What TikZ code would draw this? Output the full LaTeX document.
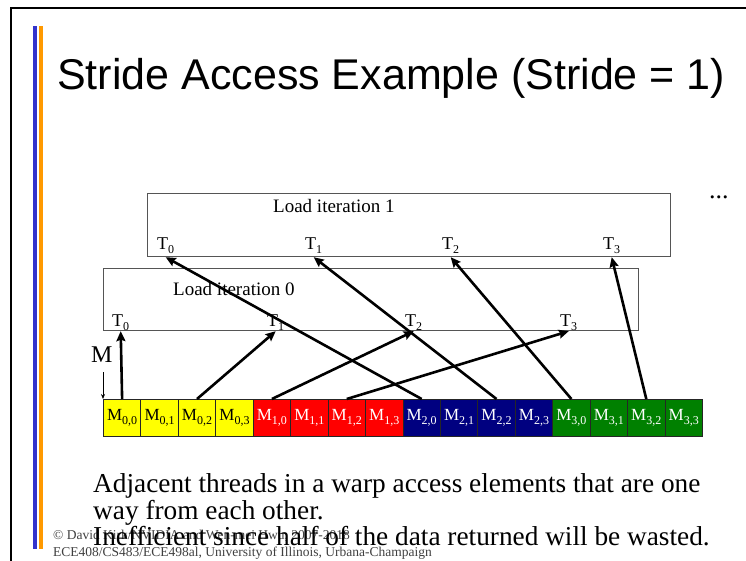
\documentclass[tikz,border=0pt]{standalone}
\usepackage{fontspec}
\setmainfont{Liberation Serif}
\newfontfamily\headfont{Liberation Sans}
\usetikzlibrary{arrows.meta}

\definecolor{barblue}{HTML}{3333CC}
\definecolor{barorange}{HTML}{FF9900}
\definecolor{memyellow}{HTML}{FFFF00}
\definecolor{memred}{HTML}{FF0000}
\definecolor{memnavy}{HTML}{000080}
\definecolor{memgreen}{HTML}{008000}
\definecolor{boxgray}{HTML}{555555}

% subscripted label, e.g. T_0 or M_{0,0}
\newcommand{\subl}[3]{\fontsize{#3}{#3}\selectfont #1\raisebox{-4pt}{\fontsize{12}{12}\selectfont #2}}

\tikzset{
  loadbox/.style={draw=boxgray, line width=1.2pt, inner sep=0pt, anchor=north west},
  boxtitle/.style={anchor=base west, inner sep=0pt, font=\fontsize{19}{19}\selectfont},
  tlabel/.style={anchor=base west, inner sep=0pt},
  memcell/.style={draw=black!85, line width=0.8pt, anchor=north west,
    minimum width=37.44pt, minimum height=37pt, inner sep=0pt},
  thread/.style={line width=2.6pt, -{Stealth[length=10pt,width=9pt,inset=1.5pt]}},
  bodytext/.style={anchor=base west, inner sep=0pt, font=\fontsize{27.3}{27.3}\selectfont},
  foot/.style={anchor=base west, inner sep=0pt, font=\fontsize{13.5}{13.5}\selectfont, text=black!75},
}

\begin{document}
\begin{tikzpicture}[x=1pt,y=-1pt]
\useasboundingbox (0,0) rectangle (746,561);
\fill[white] (0,0) rectangle (746,561);

% slide frame and side bars
\draw[line width=2.5pt] (11,575) -- (11,8) -- (760,8);
\fill[barblue] (33,26) rectangle (37,549);
\fill[barorange] (39,26) rectangle (43,549);

% title
\node[anchor=base west, inner sep=0pt, font=\headfont\fontsize{43}{43}\selectfont] (title) at (57,90) {Stride Access Example (Stride = 1)};

% load iteration boxes
\node[loadbox, minimum width=523pt, minimum height=63pt] (it1) at (147,193) {};
\node[loadbox, minimum width=535pt, minimum height=62pt] (it0) at (103,268) {};
\node[boxtitle] (it1t) at (273,213) {Load iteration 1};
\node[boxtitle] (it0t) at (173,295) {Load iteration 0};

% thread labels
\node[tlabel] (b0) at (157,250) {\subl{T}{0}{18}};
\node[tlabel] (b1) at (305,250) {\subl{T}{1}{18}};
\node[tlabel] (b2) at (442,250) {\subl{T}{2}{18}};
\node[tlabel] (b3) at (603,250) {\subl{T}{3}{18}};
\node[tlabel] (a0) at (112,326) {\subl{T}{0}{18}};
\node[tlabel] (a1) at (267,326) {\subl{T}{1}{18}};
\node[tlabel] (a2) at (405,326) {\subl{T}{2}{18}};
\node[tlabel] (a3) at (560,326) {\subl{T}{3}{18}};

\node[anchor=base west, inner sep=0pt, font=\fontsize{26}{26}\selectfont] (dots) at (709,199) {...};

% memory row
\foreach \i/\col/\tc in {0/memyellow/black, 1/memred/white, 2/memnavy/white, 3/memgreen/white}{
  \foreach \j in {0,...,3}{
    \pgfmathsetmacro{\xx}{103+(4*\i+\j)*37.44}
    \node[memcell, fill=\col, text=\tc] (m\i\j) at (\xx,399) {\subl{M}{\i,\j}{17}};
  }
}

% size marker
\node[anchor=base west, inner sep=0pt, font=\fontsize{24}{24}\selectfont] (mlab) at (91,362) {M};
\coordinate (mtop) at (103,372);
\draw[line width=0.7pt, -{Stealth[length=5pt,width=4pt]}] (mtop) -- (m00.north west);

% iteration 0 accesses
\draw[thread] (m00.north) -- (a0 |- it0.south);
\draw[thread] (m02.north) -- (a1 |- it0.south);
\draw[thread] (m10.north) -- (a2 |- it0.south);
\draw[thread] (m12.north) -- (a3 |- it0.south);

% iteration 1 accesses
\draw[thread] (m20.north) -- (b0 |- it1.south);
\draw[thread] (m22.north) -- (b1 |- it1.south);
\draw[thread] (m30.north) -- (b2 |- it1.south);
\draw[thread] (m32.north) -- (b3 |- it1.south);

% footer
\node[foot] (f1) at (53,539) {© David Kirk/NVIDIA and Wen-mei Hwu, 2007-2018};
\node[foot] (f2) at (53,556) {ECE408/CS483/ECE498al, University of Illinois, Urbana-Champaign};

% body text
\node[bodytext] (l1) at (93,492) {Adjacent threads in a warp access elements that are one};
\node[bodytext] (l2) at (93,519) {way from each other.};
\node[bodytext] (l3) at (93,545) {Inefficient since half of the data returned will be wasted.};
\end{tikzpicture}
\end{document}
